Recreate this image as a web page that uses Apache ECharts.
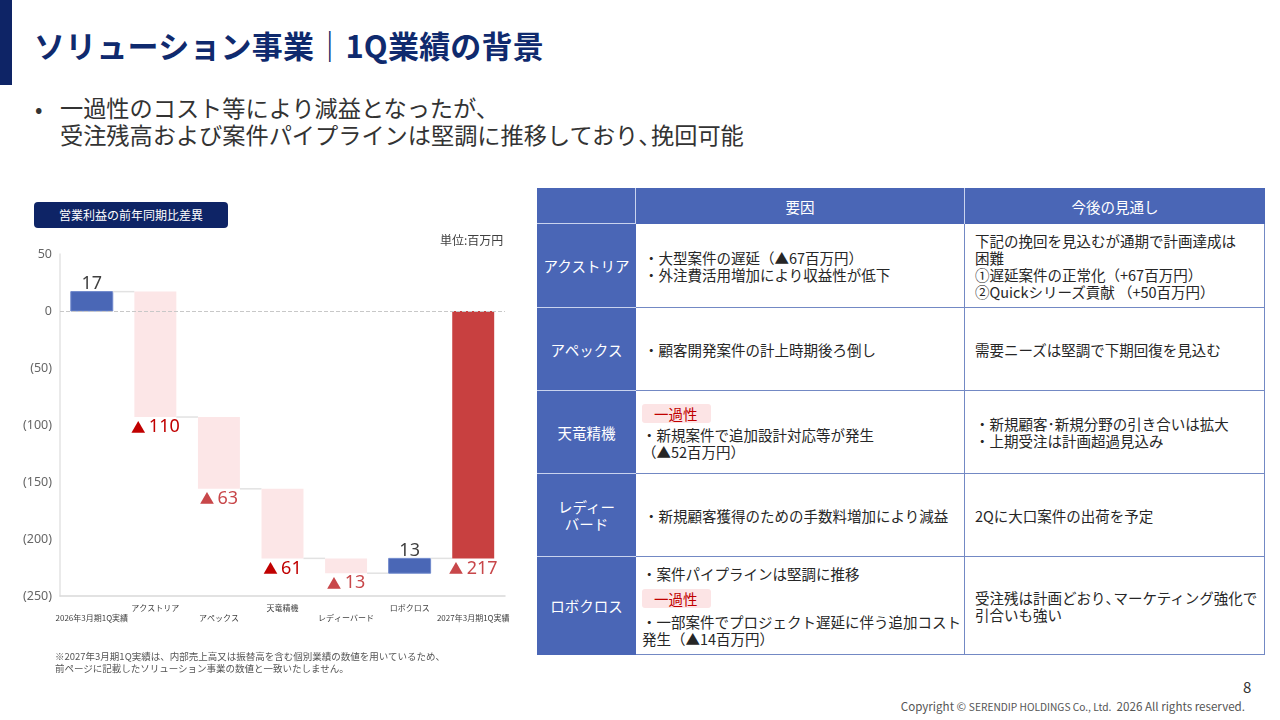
<!DOCTYPE html>
<html lang="ja">
<head>
<meta charset="utf-8">
<script src="https://cdn.jsdelivr.net/npm/echarts@6/dist/echarts.min.js"></script>
<style>
  html, body { margin: 0; padding: 0; }
  body { width: 1280px; height: 720px; position: relative; background: #fff; overflow: hidden;
         font-family: "Noto Sans CJK JP", "Noto Sans", sans-serif; color: #262626; }
  .abs { position: absolute; white-space: nowrap; }
  .p { letter-spacing: -0.45em; }
  #accent { left: 0; top: 0; width: 12px; height: 85px; background: #0E2466; }
  #title { left: 34px; top: 25px; font-size: 31px; line-height: 40px; font-weight: 700; color: #0F2A6E; letter-spacing: 0.2px; }
  #bullet { left: 35px; top: 94px; font-size: 23.2px; line-height: 27px; color: #333; }
  #bullet .dot { position: absolute; left: 0; top: 0; font-size: 22px; }
  #bullet .txt { position: absolute; left: 25px; top: 0; }
  #chip { left: 34px; top: 202px; width: 194px; height: 26px; background: #0E2466; border-radius: 4px;
          color: #fff; font-size: 12px; line-height: 26px; text-align: center; }
  #unit { left: 440px; top: 231px; font-size: 12px; line-height: 17px; color: #404040; }
  #chart { left: 0; top: 230px; width: 530px; height: 420px; }
  #note { left: 55px; top: 650px; font-size: 9.5px; line-height: 12px; color: #555; }
  #page { left: 1243px; top: 677px; font-size: 15px; line-height: 20px; color: #333; }
  #copy { right: 35px; top: 698px; font-size: 11.6px; line-height: 16px; color: #555; }
  #copy .sc { font-size: 10.2px; }
  #table { left: 537px; top: 188px; display: grid; grid-template-columns: 99px 329px 300px;
           grid-template-rows: 36px 84px 83px 83px 83px 98px; }
  .c { box-sizing: border-box; display: flex; align-items: center; font-size: 14.5px; line-height: 17px; white-space: nowrap; }
  .h { background: #4A66B6; color: #fff; justify-content: center; }
  .h.first { border-right: 1.5px solid #C9D3EE; border-bottom: 1.5px solid #C9D3EE; }
  .h.mid { border-right: 1.5px solid #C9D3EE; }
  .f { background: #4A66B6; color: #fff; justify-content: center; text-align: center; border-bottom: 1.5px solid #C9D3EE; }
  .f.last { border-bottom: 1.5px solid #4A66B6; }
  .b { background: #fff; border-bottom: 1.5px solid #7389C4; border-right: 1.5px solid #7389C4; }
  .b2 { padding-left: 8px; }
  .b3 { padding-left: 10px; }
  .tag { display: inline-block; background: #FCE4E5; color: #C00000; border-radius: 3px; padding: 0 13px 0 12px;
         line-height: 19px; height: 19px; }
</style>
</head>
<body>
<div class="abs" id="accent"></div>
<div class="abs" id="title">ソリューション事業｜1Q業績の背景</div>
<div class="abs" id="bullet"><span class="dot">•</span><span class="txt">一過性のコスト等により減益となったが、<br>受注残高および案件パイプラインは堅調に推移しており<span class="p">、</span>挽回可能</span></div>

<div class="abs" id="chart"></div>
<div class="abs" id="chip">営業利益の前年同期比差異</div>
<div class="abs" id="unit">単位:百万円</div>
<div class="abs" id="note">※2027年3月期1Q実績は、内部売上高又は振替高を含む個別業績の数値を用いているため、<br>前ページに記載したソリューション事業の数値と一致いたしません。</div>

<div class="abs" id="table">
  <div class="c h first"></div>
  <div class="c h mid">要因</div>
  <div class="c h">今後の見通し</div>

  <div class="c f">アクストリア</div>
  <div class="c b b2"><div>・大型案件の遅延（▲67百万円）<br>・外注費活用増加により収益性が低下</div></div>
  <div class="c b b3"><div>下記の挽回を見込むが通期で計画達成は<br>困難<br>①遅延案件の正常化（+67百万円）<br>②Quickシリーズ貢献 （+50百万円）</div></div>

  <div class="c f">アペックス</div>
  <div class="c b b2"><div>・顧客開発案件の計上時期後ろ倒し</div></div>
  <div class="c b b3"><div>需要ニーズは堅調で下期回復を見込む</div></div>

  <div class="c f">天竜精機</div>
  <div class="c b b2" style="padding-left:6px"><div><span class="tag">一過性</span><div style="height:3px"></div>・新規案件で追加設計対応等が発生<br>（▲52百万円）</div></div>
  <div class="c b b3"><div>・新規顧客･新規分野の引き合いは拡大<br>・上期受注は計画超過見込み</div></div>

  <div class="c f">レディー<br>バード</div>
  <div class="c b b2"><div>・新規顧客獲得のための手数料増加により減益</div></div>
  <div class="c b b3"><div>2Qに大口案件の出荷を予定</div></div>

  <div class="c f last">ロボクロス</div>
  <div class="c b b2" style="padding-left:6px"><div>・案件パイプラインは堅調に推移<div style="height:7px"></div><span class="tag">一過性</span><div style="height:5px"></div>・一部案件でプロジェクト遅延に伴う追加コスト<br>発生（▲14百万円）</div></div>
  <div class="c b b3"><div>受注残は計画どおり<span class="p">、</span>マーケティング強化で<br>引合いも強い</div></div>
</div>

<div class="abs" id="page">8</div>
<div class="abs" id="copy">Copyright © <span class="sc">SERENDIP HOLDINGS Co., Ltd.</span>&nbsp; 2026 All rights reserved.</div>

<script>
// ---- data ----
const categories = ['2026年3月期1Q実績', 'アクストリア', 'アペックス', '天竜精機', 'レディーバード', 'ロボクロス', '2027年3月期1Q実績'];
const deltas = [17, -110, -63, -61, -13, 13, -217];
const isTotal = [true, false, false, false, false, false, true];
const yTicks = { min: -250, max: 50, interval: 50 };

// ---- build waterfall rows [index, start, end, delta] ----
const rows = [];
let run = 0;
deltas.forEach((d, i) => {
  let s, e;
  if (isTotal[i]) { s = 0; e = d; run = d; }
  else { s = run; e = run + d; run = e; }
  rows.push([i, s, e, d]);
});

// ---- styles ----
const BLUE = '#4A67B6', PINK = '#FCE6E7', RED = '#C84040';
const labelRed = ['#C00000', '#C00000', '#C8474A', '#C00000', '#C8474A', '#C8474A', '#C8474A'];
function barColor(i, d) {
  if (i === deltas.length - 1) return RED;
  return d > 0 ? BLUE : PINK;
}

const chart = echarts.init(document.getElementById('chart'), null, { renderer: 'canvas' });

function renderItem(params, api) {
  const i = api.value(0), s = api.value(1), e = api.value(2), d = api.value(3);
  const band = api.size([1, 0])[0];
  const bw = band * 0.66;
  const ps = api.coord([i, s]), pe = api.coord([i, e]);
  const top = Math.min(ps[1], pe[1]), h = Math.abs(ps[1] - pe[1]);
  const fill = barColor(i, d);
  const children = [{
    type: 'rect',
    shape: { x: ps[0] - bw / 2, y: top, width: bw, height: h },
    style: { fill: fill, stroke: fill === BLUE ? '#6F88CC' : null, lineWidth: fill === BLUE ? 1 : 0 }
  }];
  if (i < deltas.length - 1) {
    children.push({
      type: 'line',
      shape: { x1: ps[0] + bw / 2, y1: pe[1], x2: ps[0] + band - bw / 2, y2: pe[1] },
      style: { stroke: '#E2E2E2', lineWidth: 1.5 }
    });
  }
  if (d > 0) {
    children.push({
      type: 'text',
      style: { text: String(d), x: ps[0], y: top + 1, align: 'center', verticalAlign: 'bottom',
               fill: '#404040', font: '18px "Noto Sans", sans-serif' }
    });
  } else {
    children.push({
      type: 'text',
      style: {
        text: '{t|▲} {n|' + Math.abs(d) + '}', x: ps[0], y: top + h + 1, align: 'center', verticalAlign: 'top',
        rich: {
          t: { fill: labelRed[i], fontSize: 14.5, fontFamily: 'Noto Sans CJK JP', verticalAlign: 'middle' },
          n: { fill: labelRed[i], fontSize: 18, fontFamily: 'Noto Sans', verticalAlign: 'middle' }
        }
      }
    });
  }
  return { type: 'group', children: children };
}

chart.setOption({
  animation: false,
  grid: { left: 60, right: 25, top: 24, height: 342, containLabel: false },
  xAxis: {
    type: 'category',
    data: categories,
    axisLine: { onZero: false, lineStyle: { color: '#D9D9D9', width: 1.5 } },
    axisTick: { show: false },
    axisLabel: {
      interval: 0, margin: 7, color: '#404040', fontSize: 8, lineHeight: 10, fontFamily: 'Noto Sans CJK JP',
      formatter: (v, i) => (i % 2 ? v : '\n' + v)
    }
  },
  yAxis: {
    type: 'value',
    min: yTicks.min, max: yTicks.max, interval: yTicks.interval,
    axisLine: { show: true, lineStyle: { color: '#E3E3E3', width: 1.5 } },
    axisTick: { show: false },
    splitLine: { show: false },
    axisLabel: {
      margin: 8, color: '#666666', fontSize: 12.5, fontFamily: 'Noto Sans',
      formatter: v => (v < 0 ? '(' + (-v) + ')' : String(v))
    }
  },
  series: [{
    type: 'custom',
    renderItem: renderItem,
    data: rows,
    encode: { x: 0, y: [1, 2] },
    markLine: {
      silent: true, symbol: 'none', label: { show: false },
      lineStyle: { type: 'dashed', color: '#C8C8C8', width: 1 },
      data: [{ yAxis: 0 }]
    },
    z: 2
  }]
});
</script>
</body>
</html>
